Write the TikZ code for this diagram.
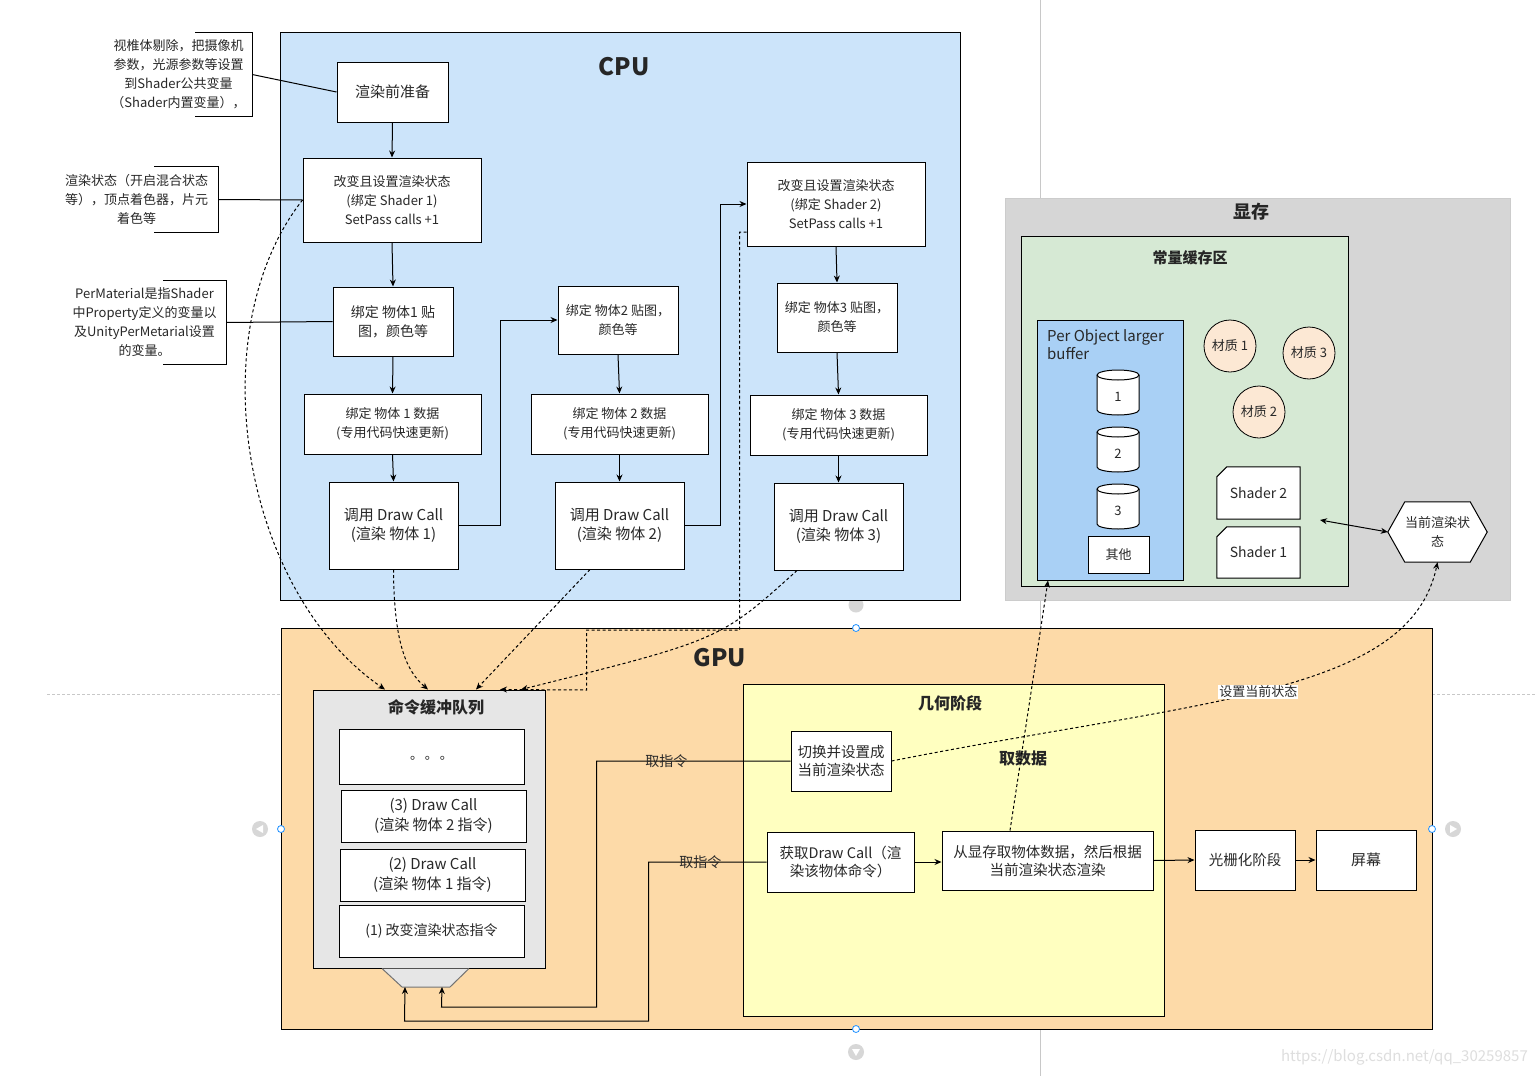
\documentclass[tikz,border=0pt]{standalone}
\usepackage{fontspec}
\setmainfont{Noto Sans CJK SC}
\usetikzlibrary{arrows.meta,calc}
\definecolor{tcol}{RGB}{40,40,40}
\definecolor{cpuc}{RGB}{204,228,250}
\definecolor{gpuc}{RGB}{253,218,168}
\definecolor{geoc}{RGB}{255,255,192}
\definecolor{cmdc}{RGB}{230,230,230}
\definecolor{memc}{RGB}{214,214,214}
\definecolor{constc}{RGB}{214,233,212}
\definecolor{pobc}{RGB}{169,208,245}
\definecolor{matc}{RGB}{252,232,212}
\definecolor{guidec}{RGB}{200,200,200}
\definecolor{uiblue}{RGB}{30,144,255}
\definecolor{uigrey}{RGB}{215,215,215}
\definecolor{wmc}{RGB}{222,222,222}
\newcommand{\mycyl}[2]{%
  \draw[line width=1pt, fill=white] (#1,#2+5) -- (#1,#2+40) arc[start angle=180, end angle=0, x radius=21, y radius=5] -- (#1+42,#2+5) arc[start angle=0, end angle=-180, x radius=21, y radius=5] -- cycle;
  \draw[line width=1pt] (#1,#2+5) arc[start angle=180, end angle=0, x radius=21, y radius=5];}
\begin{document}
\begin{tikzpicture}[x=1pt,y=-1pt,
  f13/.style={font=\fontsize{13}{19}\selectfont},
  f14/.style={font=\fontsize{14}{19}\selectfont},
  f145/.style={font=\fontsize{14.5}{18}\selectfont},
  f15/.style={font=\fontsize{15}{19.5}\selectfont},
  bx/.style={draw=black, line width=1pt, fill=white, inner sep=0pt, align=center, text=tcol},
  ctr/.style={draw=black, line width=1pt, inner sep=0pt},
  lbl/.style={text=tcol, inner sep=0pt, align=center},
  ttl/.style={text=black!85, inner sep=0pt, font=\bfseries\fontsize{16}{20}\selectfont},
  arr/.style={draw=black, line width=1pt, -{Stealth[length=7pt,width=6pt]}},
  darr/.style={arr, dash pattern=on 3pt off 2.5pt},
  ln/.style={draw=black, line width=1pt},
  ui/.style={draw=uiblue, fill=white, line width=0.8pt},
]
\useasboundingbox (0,0) rectangle (1537,1076);
\fill[white] (0,0) rectangle (1537,1076);
% page guides
\draw[guidec, dash pattern=on 3pt off 2pt, line width=0.6pt] (47,694) -- (1537,694);
\draw[guidec, line width=0.6pt] (1040,0) -- (1040,1076);
\fill[uigrey] (856,605) circle[radius=7.5];

% ---------------- CPU ----------------
\node[ctr, fill=cpuc, minimum width=680, minimum height=568] (cpu) at (620,316) {};
\node[ttl, font=\bfseries\fontsize{24}{28}\selectfont] (cputtl) at (624,67) {CPU};

\node[bx, f15, minimum width=111, minimum height=60] (prep) at (392.5,92) {渲染前准备};
\node[bx, f13, minimum width=178, minimum height=84] (sh1) at (392,200) {改变且设置渲染状态\\(绑定 Shader 1)\\SetPass calls +1};
\node[bx, f14, minimum width=120, minimum height=69] (tex1) at (393,321.5) {绑定 物体1 贴\\图，颜色等};
\node[bx, f13, minimum width=177, minimum height=60] (dat1) at (392.5,424) {绑定 物体 1 数据\\(专用代码快速更新)};
\node[bx, f15, minimum width=129, minimum height=87] (dc1) at (393.5,525.5) {调用 Draw Call\\(渲染 物体 1)};

\node[bx, f13, minimum width=120, minimum height=68] (tex2) at (618,320) {绑定 物体2 贴图，\\颜色等};
\node[bx, f13, minimum width=177, minimum height=60] (dat2) at (619.5,424) {绑定 物体 2 数据\\(专用代码快速更新)};
\node[bx, f15, minimum width=129, minimum height=87] (dc2) at (619.5,525.5) {调用 Draw Call\\(渲染 物体 2)};

\node[bx, f13, minimum width=178, minimum height=84] (sh2) at (836,204) {改变且设置渲染状态\\(绑定 Shader 2)\\SetPass calls +1};
\node[bx, f13, minimum width=120, minimum height=69] (tex3) at (837,317.5) {绑定 物体3 贴图，\\颜色等};
\node[bx, f13, minimum width=177, minimum height=60] (dat3) at (838.5,425) {绑定 物体 3 数据\\(专用代码快速更新)};
\node[bx, f15, minimum width=129, minimum height=87] (dc3) at (838.5,526.5) {调用 Draw Call\\(渲染 物体 3)};

% annotations
\node[lbl, f13, minimum width=147, minimum height=83] (ann1) at (178.5,74.5) {视椎体剔除，把摄像机\\参数，光源参数等设置\\到Shader公共变量\\（Shader内置变量），};
\draw[ln] ([xshift=-57pt]ann1.north east) -- (ann1.north east) -- (ann1.south east) -- ([xshift=-57pt]ann1.south east);
\node[lbl, f13, minimum width=163, minimum height=65] (ann2) at (136.5,199.5) {渲染状态（开启混合状态\\等），顶点着色器，片元\\着色等};
\draw[ln] ([xshift=-64pt]ann2.north east) -- (ann2.north east) -- (ann2.south east) -- ([xshift=-64pt]ann2.south east);
\node[lbl, f13, minimum width=163, minimum height=83] (ann3) at (144.5,322.5) {PerMaterial是指Shader\\中Property定义的变量以\\及UnityPerMetarial设置\\的变量。};
\draw[ln] ([xshift=-63pt]ann3.north east) -- (ann3.north east) -- (ann3.south east) -- ([xshift=-63pt]ann3.south east);
\draw[ln] (ann1.east) -- (prep.west);
\draw[ln] (ann2.east) -- (sh1.west);
\draw[ln] (ann3.east) -- (tex1.west);

% ---------------- 显存 ----------------
\node[ctr, draw=black!20, fill=memc, minimum width=505, minimum height=402] (mem) at (1257.5,399) {};
\node[ttl, font=\bfseries\fontsize{18}{22}\selectfont] (memttl) at (1251,212) {显存};
\node[ctr, fill=constc, minimum width=327, minimum height=350] (cst) at (1184.5,411) {};
\node[ttl, font=\bfseries\fontsize{15}{19}\selectfont] (cstttl) at (1190,258) {常量缓存区};
\node[ctr, fill=pobc, minimum width=146, minimum height=260] (pob) at (1110,450) {};
\node[lbl, font=\fontsize{15}{18}\selectfont, anchor=north west, align=left] (pobt) at (1047,329) {Per Object larger\\buffer};
\mycyl{1097}{370}
\node[lbl, f13] (c1) at (1118,397) {1};
\mycyl{1097}{427}
\node[lbl, f13] (c2) at (1118,454) {2};
\mycyl{1097}{484}
\node[lbl, f13] (c3) at (1118,511) {3};
\node[bx, f13, minimum width=61, minimum height=37] (oth) at (1118.5,554.5) {其他};
\node[draw=black, circle, fill=matc, minimum size=52, line width=0.8pt, lbl, f13] (m1) at (1230,346) {材质 1};
\node[draw=black, circle, fill=matc, minimum size=52, line width=0.8pt, lbl, f13] (m3) at (1309,353) {材质 3};
\node[draw=black, circle, fill=matc, minimum size=52, line width=0.8pt, lbl, f13] (m2) at (1259,412) {材质 2};
\node[minimum width=83, minimum height=52, inner sep=0pt] (shd2) at (1258.5,493) {};
\draw[ln, fill=white] ([yshift=-10pt]shd2.north west) -- ([xshift=10pt]shd2.north west) -- (shd2.north east) -- (shd2.south east) -- (shd2.south west) -- cycle;
\node[lbl, f14] (shd2t) at (shd2) {Shader 2};
\node[minimum width=83, minimum height=51, inner sep=0pt] (shd1) at (1258.5,552.5) {};
\draw[ln, fill=white] ([yshift=-10pt]shd1.north west) -- ([xshift=10pt]shd1.north west) -- (shd1.north east) -- (shd1.south east) -- (shd1.south west) -- cycle;
\node[lbl, f14] (shd1t) at (shd1) {Shader 1};
\node[minimum width=99, minimum height=60, inner sep=0pt] (hex) at (1437.5,532) {};
\draw[ln, fill=white] (hex.west) -- ([xshift=17pt]hex.north west) -- ([xshift=-17pt]hex.north east) -- (hex.east) -- ([xshift=-17pt]hex.south east) -- ([xshift=17pt]hex.south west) -- cycle;
\node[lbl, f13] (hext) at (hex) {当前渲染状\\态};
\coordinate (bm) at (1320,520);

% ---------------- GPU ----------------
\node[ctr, fill=gpuc, minimum width=1151, minimum height=401] (gpu) at (856.5,828.5) {};
\node[ttl, font=\bfseries\fontsize{24}{28}\selectfont] (gputtl) at (720,658) {GPU};
\node[ctr, fill=cmdc, minimum width=232, minimum height=278] (cmdq) at (429,829) {};
\node[ttl] (cmdqttl) at (436,707) {命令缓冲队列};
\node[bx, f13, minimum width=185, minimum height=55] (q0) at (431.5,756.5) {\raisebox{-6pt}{。\hspace{2pt}。\hspace{2pt}。}};
\node[bx, f15, minimum width=185, minimum height=52] (q3) at (433.5,816) {(3) Draw Call\\(渲染 物体 2 指令)};
\node[bx, f15, minimum width=185, minimum height=52] (q2) at (432.5,875) {(2) Draw Call\\(渲染 物体 1 指令)};
\node[bx, f14, minimum width=185, minimum height=52] (q1) at (431.5,931) {(1) 改变渲染状态指令};
\fill[cmdc] (382,968.5) -- (402,987) -- (450,987) -- (469,968.5) -- cycle;
\draw[black!55, line width=1pt] (382,968.5) -- (402,987) -- (450,987) -- (469,968.5);
\coordinate (tA) at (405,987);
\coordinate (tB) at (442,987);

\node[ctr, fill=geoc, minimum width=421, minimum height=332] (geo) at (953.5,850) {};
\node[ttl] (geottl) at (950,703) {几何阶段};
\node[ttl] (qsj) at (1023,758) {取数据};
\node[bx, f145, minimum width=100, minimum height=60] (sw) at (841,761) {切换并设置成\\当前渲染状态};
\node[bx, f145, minimum width=147, minimum height=60] (fetch) at (840.5,862) {获取Draw Call（渲\\染该物体命令）};
\node[bx, f145, minimum width=211, minimum height=59] (rd) at (1047.5,860.5) {从显存取物体数据，然后根据\\当前渲染状态渲染};
\node[bx, f145, minimum width=100, minimum height=60] (rast) at (1245,860) {光栅化阶段};
\node[bx, f15, minimum width=100, minimum height=60] (scr) at (1366,860) {屏幕};

% ---------------- connectors ----------------
\draw[arr] (prep.south) -- (sh1.north);
\draw[arr] (sh1.south) -- (tex1.north);
\draw[arr] (tex1.south) -- (dat1.north);
\draw[arr] (dat1.south) -- (dc1.north);
\draw[arr] (dc1.east) -- ++(42,0) |- (tex2.west);
\draw[arr] (tex2.south) -- (dat2.north);
\draw[arr] (dat2.south) -- (dc2.north);
\draw[arr] (dc2.east) -- ++(36,0) |- (sh2.west);
\draw[arr] (sh2.south) -- (tex3.north);
\draw[arr] (tex3.south) -- (dat3.north);
\draw[arr] (dat3.south) -- (dc3.north);

\draw[darr] (sh1.west) .. controls (200,330) and (240,590) .. ([xshift=-44pt]cmdq.north);
\draw[darr] (dc1.south) .. controls (394,640) and (405,670) .. ([xshift=-1pt]cmdq.north);
\draw[darr] ([xshift=-29.5pt]dc2.south) -- ([xshift=47pt]cmdq.north);
\draw[darr] ([xshift=-41.5pt]dc3.south) .. controls (720,640) .. ([xshift=92pt]cmdq.north);
\draw[darr] ([yshift=-28pt]sh2.west) -- ++(-7,0) -- ++(0,398) -- ++(-153,0) -- ++(0,60) -- ([xshift=71pt]cmdq.north);

\draw[arr] (sw.west) -- ++(-194,0) node[pos=0.64, lbl, f14]{取指令} -- ++(0,246) -- ++(-155,0) -- (tB);
\draw[arr] (fetch.west) -- ++(-118,0) node[pos=0.56, lbl, f14]{取指令} -- ++(0,159) -- ++(-244,0) -- (tA);
\draw[arr] (fetch.east) -- (fetch.east -| rd.west);
\draw[arr] (rd.east) -- (rast.west);
\draw[arr] (rast.east) -- (scr.west);

\draw[darr] ([xshift=-37.5pt]rd.north) -- ([xshift=-62pt]pob.south);
\draw[darr] (sw.east) .. controls (1200,700) and (1410,695) .. (hex.south) node[pos=0.48, fill=white, inner sep=1pt, text=tcol, f13]{设置当前状态};
\draw[ln, {Stealth[length=7pt,width=6pt]}-{Stealth[length=7pt,width=6pt]}] (bm) -- (hex.west);

% ---------------- editor handles ----------------
\draw[ui] (856,628) circle[radius=3.5];
\draw[ui] (281,829) circle[radius=3.5];
\draw[ui] (1432,829) circle[radius=3.5];
\draw[ui] (856,1029) circle[radius=3.5];
\fill[uigrey] (260,829) circle[radius=8];
\fill[white] (256,829) -- (263,825) -- (263,833) -- cycle;
\fill[uigrey] (1453,829) circle[radius=8];
\fill[white] (1457,829) -- (1450,825) -- (1450,833) -- cycle;
\fill[uigrey] (856,1052) circle[radius=8];
\fill[white] (856,1056) -- (852,1049) -- (860,1049) -- cycle;

\node[text=wmc, font=\fontsize{15}{18}\selectfont, anchor=east, inner sep=0pt] (wm) at (1528,1057) {https://blog.csdn.net/qq\_30259857};
\end{tikzpicture}
\end{document}
